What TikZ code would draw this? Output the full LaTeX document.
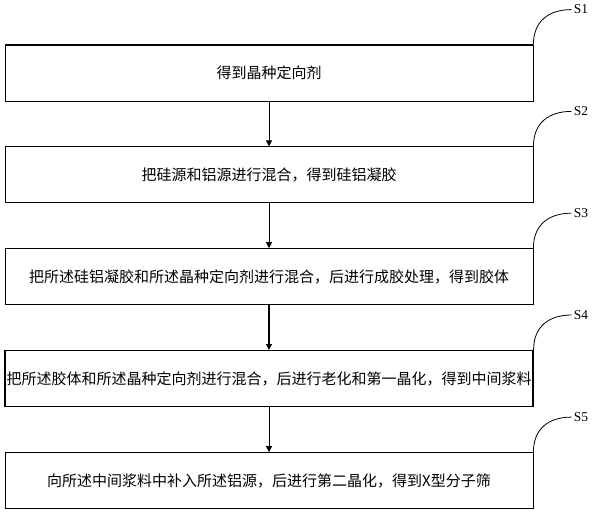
\documentclass[tikz,border=0pt]{standalone}
\usepackage{fontspec}
\setmainfont{Liberation Serif}
\newfontfamily\cjk{Noto Sans CJK SC}
\usetikzlibrary{arrows.meta,positioning}

\begin{document}
\begin{tikzpicture}[
    x=1pt, y=1pt,
    node distance=45pt,
    line width=0.8pt,
    stepbox/.style={draw, rectangle, minimum width=528pt, minimum height=56pt, inner sep=0pt, font=\cjk\fontsize{15}{18}\selectfont},
    steplabel/.style={anchor=west, inner sep=2pt, font=\fontsize{13.5}{16}\selectfont},
    >={Triangle[length=6pt,width=6pt]}
]
    \useasboundingbox (0,0) rectangle (599,512);
    \node[stepbox] (b1) at (269,439) {得到晶种定向剂};
    \node[stepbox, below=of b1] (b2) {把硅源和铝源进行混合，得到硅铝凝胶};
    \node[stepbox, below=of b2] (b3) {把所述硅铝凝胶和所述晶种定向剂进行混合，后进行成胶处理，得到胶体};
    \node[stepbox, below=of b3, line width=1.1pt] (b4) {把所述胶体和所述晶种定向剂进行混合，后进行老化和第一晶化，得到中间浆料};
    \node[stepbox, below=of b4] (b5) {向所述中间浆料中补入所述铝源，后进行第二晶化，得到X型分子筛};

    % thicker top edge of the first box
    \draw[line width=1.8pt] (b1.north west) -- (b1.north east);

    \draw[->] (b1) -- (b2);
    \draw[->] (b2) -- (b3);
    \draw[->, line width=1.3pt] (b3) -- (b4);
    \draw[->] (b4) -- (b5);

    % step labels
    \foreach \i in {1,...,5} {
        \path (b\i.north east) ++(38,35) node[steplabel] (s\i) {S\i};
        \draw (b\i.north east) .. controls +(0,24) and +(-22,0) .. (s\i.west);
    }
\end{tikzpicture}
\end{document}
